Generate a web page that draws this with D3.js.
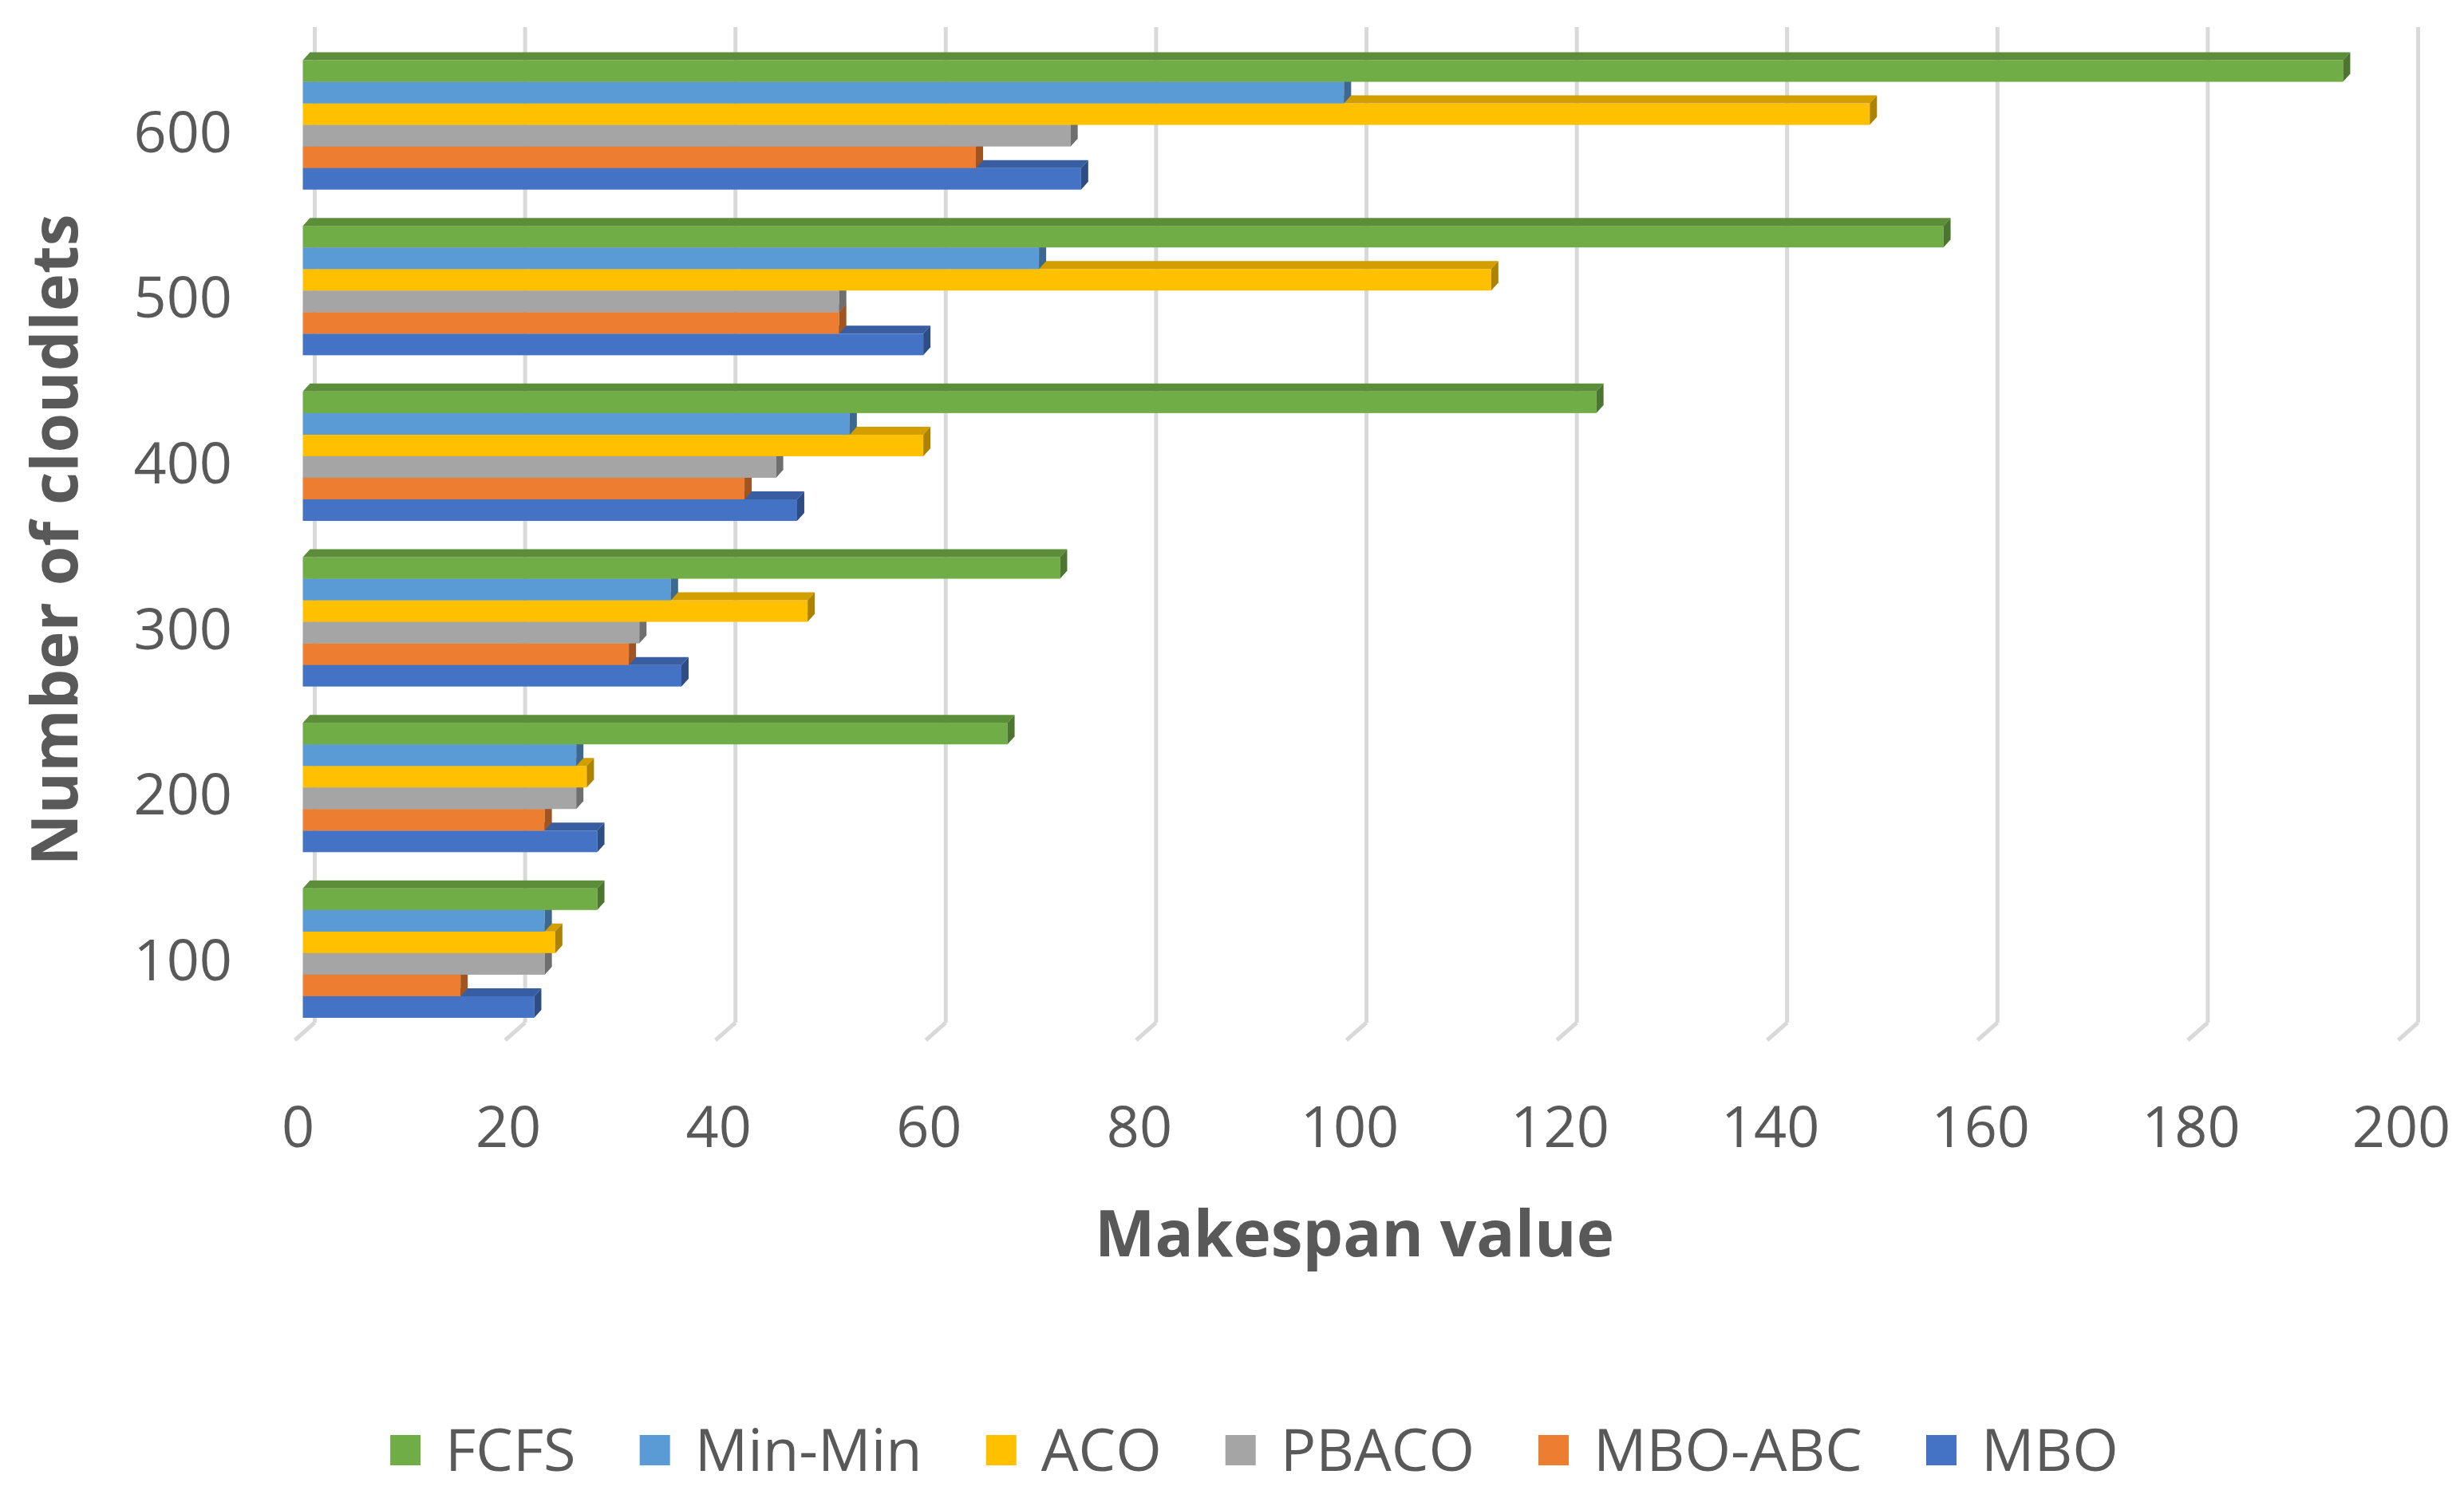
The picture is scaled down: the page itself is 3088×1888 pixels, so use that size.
<!DOCTYPE html>
<html>
<head>
<meta charset="utf-8">
<script src="https://cdnjs.cloudflare.com/ajax/libs/d3/7.8.5/d3.min.js"></script>
<style>
  body { margin: 0; background: #fff; }
  text { font-family: "Open Sans", "Noto Sans", sans-serif; fill: #595959; }
</style>
</head>
<body>
<div id="my_dataviz"></div>
<script>
// data
var categories = ["600", "500", "400", "300", "200", "100"];
var series = ["FCFS", "Min-Min", "ACO", "PBACO", "MBO-ABC", "MBO"];
var colors = ["#70AD47", "#5B9BD5", "#FFC000", "#A5A5A5", "#ED7D31", "#4472C4"];
var fcfs   = [194, 156, 123, 72, 67, 28];
var minMin = [99, 70, 52, 35, 26, 23];
var aco    = [149, 113, 59, 48, 27, 24];
var pbaco  = [73, 51, 45, 32, 26, 23];
var mboAbc = [64, 51, 42, 31, 23, 15];
var mbo    = [74, 59, 47, 36, 28, 22];
var xTicks = [0, 20, 40, 60, 80, 100, 120, 140, 160, 180, 200];

var values = [fcfs, minMin, aco, pbaco, mboAbc, mbo];

var width = 3088, height = 1888;
var depthX = 9, depthY = 10;     // fake 3d depth of the bars
var wallX = 15;                  // back wall offset for the gridlines

var svg = d3.select("#my_dataviz")
  .append("svg")
    .attr("width", width)
    .attr("height", height);

// scales
var x = d3.scaleLinear().domain([0, 200]).range([379.5, 379.5 + 2636]);
var y = d3.scaleBand().domain(categories)
    .range([34, 1317.5])
    .paddingInner(0.219)
    .paddingOuter(0.2);
var ySub = d3.scaleBand().domain(series).range([0, y.bandwidth()]);
var color = d3.scaleOrdinal().domain(series).range(colors);

// gridlines on the back wall, with a slanted foot on the floor
var grid = svg.append("g");
xTicks.forEach(function(t) {
  var gx = x(t) + wallX;
  grid.append("line")
    .attr("x1", gx).attr("x2", gx)
    .attr("y1", 34).attr("y2", 1282)
    .attr("stroke", "#d9d9d9").attr("stroke-width", 5);
  grid.append("line")
    .attr("x1", gx).attr("x2", gx - 25)
    .attr("y1", 1282).attr("y2", 1304)
    .attr("stroke", "#d9d9d9").attr("stroke-width", 5);
});

// bars, bottom bar of each group first so the upper one covers its top face
var rows = [];
categories.forEach(function(c, i) {
  series.slice().reverse().forEach(function(s) {
    rows.push({cat: c, s: s, v: values[series.indexOf(s)][i]});
  });
});

var bars = svg.append("g").selectAll("g")
  .data(rows)
  .enter().append("g");

bars.append("rect")
  .attr("x", x(0))
  .attr("y", d => y(d.cat) + ySub(d.s))
  .attr("width", d => x(d.v) - x(0))
  .attr("height", ySub.bandwidth())
  .attr("fill", d => color(d.s));

// top face
bars.append("path")
  .attr("d", function(d) {
    var y0 = y(d.cat) + ySub(d.s), x0 = x(0), x1 = x(d.v);
    return "M" + x0 + "," + y0 + "L" + (x0 + depthX) + "," + (y0 - depthY) +
      "L" + (x1 + depthX) + "," + (y0 - depthY) + "L" + x1 + "," + y0 + "Z";
  })
  .attr("fill", d => d3.rgb(color(d.s)).darker(0.55));

// right end face
bars.append("path")
  .attr("d", function(d) {
    var y0 = y(d.cat) + ySub(d.s), y1 = y0 + ySub.bandwidth(), x1 = x(d.v);
    return "M" + x1 + "," + y0 + "L" + (x1 + depthX) + "," + (y0 - depthY) +
      "L" + (x1 + depthX) + "," + (y1 - depthY) + "L" + x1 + "," + y1 + "Z";
  })
  .attr("fill", d => d3.rgb(color(d.s)).darker(1.1));

// x axis labels
svg.append("g").selectAll("text")
  .data(xTicks)
  .enter().append("text")
    .attr("x", d => x(d) - 6)
    .attr("y", 1438)
    .attr("text-anchor", "middle")
    .style("font-size", "72px")
    .text(d => d);

// y axis labels
svg.append("g").selectAll("text")
  .data(categories)
  .enter().append("text")
    .attr("x", 291)
    .attr("y", d => y(d) + y.bandwidth() / 2 + 34)
    .attr("text-anchor", "end")
    .style("font-size", "72px")
    .text(d => d);

// axis titles
svg.append("text")
  .attr("x", x(100))
  .attr("y", 1575)
  .attr("text-anchor", "middle")
  .style("font-size", "80px")
  .style("font-weight", "bold")
  .text("Makespan value");

svg.append("text")
  .attr("transform", "translate(97,677) rotate(-90)")
  .attr("text-anchor", "middle")
  .style("font-size", "80px")
  .style("font-weight", "bold")
  .text("Number of cloudlets");

// legend
var legend = svg.append("g");
var lx = 0;
series.forEach(function(s) {
  var item = legend.append("g").attr("transform", "translate(" + lx + ",0)");
  item.append("rect")
    .attr("x", 0).attr("y", 1799)
    .attr("width", 38).attr("height", 38)
    .attr("fill", color(s));
  var t = item.append("text")
    .attr("x", 69).attr("y", 1844)
    .style("font-size", "74px")
    .text(s);
  lx += 69 + t.node().getComputedTextLength() + 80;
});
var legendW = lx - 80;
legend.attr("transform", "translate(" + (1572 - legendW / 2) + ",0)");
</script>
</body>
</html>
